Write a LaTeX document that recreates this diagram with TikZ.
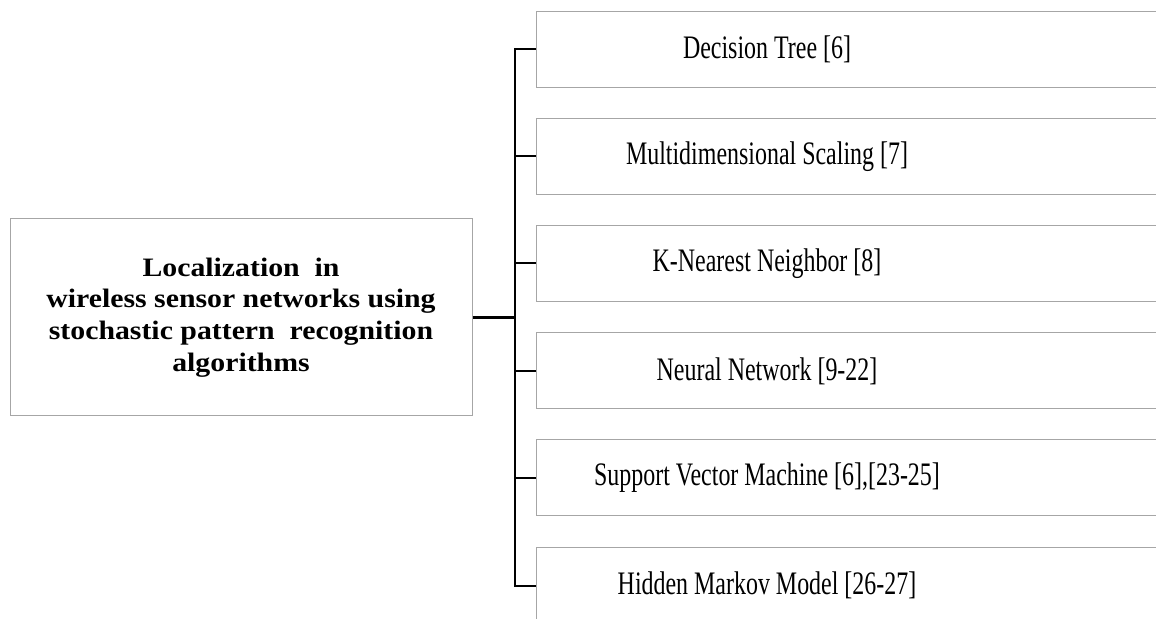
\documentclass[tikz,border=0pt]{standalone}
\usepackage{fontspec}
\setmainfont{Liberation Serif}
\newfontfamily\itemfont[FakeStretch=0.73]{Liberation Serif}
\newfontfamily\headfont[FakeStretch=1.12]{Liberation Serif}

\begin{document}
\begin{tikzpicture}[x=0.5pt,y=-0.5pt]
\tikzstyle{every node}+=[inner sep=0pt]
\tikzstyle{mainbox}=[draw=black!35, line width=0.5pt, minimum width=231pt, minimum height=98.5pt, align=center, font=\headfont\bfseries\fontsize{13.3}{15.8}\selectfont]
\tikzstyle{methodbox}=[draw=black!35, line width=0.5pt, minimum width=332pt, minimum height=38pt, anchor=west]
\tikzstyle{methodtext}=[font=\itemfont\fontsize{16.4}{19}\selectfont]
\tikzstyle{branch}=[black, line width=1pt]
\useasboundingbox (0,0) rectangle (1156,619);
\clip (0,0) rectangle (1156,619);
\node [mainbox] (main) at (241,317.5) {Localization\ \ in\\wireless sensor networks using\\stochastic pattern\ \ recognition\\algorithms};
\node [methodbox] (b1) at (536,49.5) {};
\node [methodtext] (t1) at (767,49.5) {Decision Tree [6]};
\node [methodbox] (b2) at (536,156.5) {};
\node [methodtext] (t2) at (767,156.5) {Multidimensional Scaling [7]};
\node [methodbox] (b3) at (536,263.5) {};
\node [methodtext] (t3) at (767,263.5) {K-Nearest Neighbor [8]};
\node [methodbox] (b4) at (536,371) {};
\node [methodtext] (t4) at (767,371) {Neural Network [9-22]};
\node [methodbox] (b5) at (536,478) {};
\node [methodtext] (t5) at (767,478) {Support Vector Machine [6],[23-25]};
\node [methodbox] (b6) at (536,585.5) {};
\node [methodtext] (t6) at (767,585.5) {Hidden Markov Model [26-27]};
\coordinate (trunk) at (515,317.5);
\draw [black, line width=1.5pt] (main.east) -- (trunk);
\draw [branch] (b1.west) -- (b1.west -| trunk) -- (b6.west -| trunk) -- (b6.west);
\draw [branch] (b2.west -| trunk) -- (b2.west);
\draw [branch] (b3.west -| trunk) -- (b3.west);
\draw [branch] (b4.west -| trunk) -- (b4.west);
\draw [branch] (b5.west -| trunk) -- (b5.west);
\end{tikzpicture}
\end{document}
